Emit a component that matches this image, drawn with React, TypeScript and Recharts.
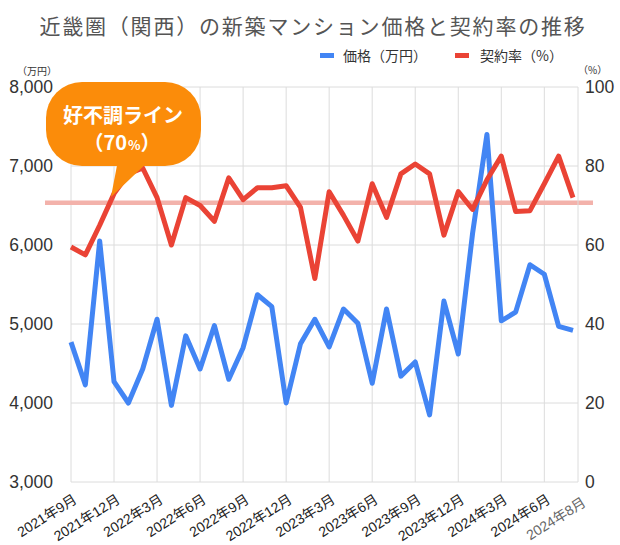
import React from 'react';
import { LineChart, Line, XAxis, YAxis, CartesianGrid, ReferenceLine } from 'recharts';

const MONTHS = [
  '2021年9月', '2021年10月', '2021年11月', '2021年12月',
  '2022年1月', '2022年2月', '2022年3月', '2022年4月', '2022年5月', '2022年6月',
  '2022年7月', '2022年8月', '2022年9月', '2022年10月', '2022年11月', '2022年12月',
  '2023年1月', '2023年2月', '2023年3月', '2023年4月', '2023年5月', '2023年6月',
  '2023年7月', '2023年8月', '2023年9月', '2023年10月', '2023年11月', '2023年12月',
  '2024年1月', '2024年2月', '2024年3月', '2024年4月', '2024年5月', '2024年6月',
  '2024年7月', '2024年8月',
];

const PRICE = [
  4770, 4230, 6050, 4270, 4000, 4430, 5060, 3970, 4850, 4430, 4980, 4300,
  4700, 5370, 5220, 4000, 4750, 5060, 4710, 5190, 5010, 4250, 5190, 4340,
  4520, 3850, 5290, 4620, 6150, 7400, 5040, 5150, 5750, 5630, 4970, 4920,
];

const RATE = [
  59.5, 57.5, 65, 73, 78, 79.5, 72, 60, 72, 70, 66, 77,
  71.5, 74.5, 74.5, 75, 69.5, 51.5, 73.5, 67.5, 61, 75.5, 67, 78,
  80.5, 78, 62.5, 73.5, 69, 76.5, 82.5, 68.5, 68.7, 75.5, 82.5, 72,
];

const TICK_LABELS = [
  '2021年9月', '2021年12月', '2022年3月', '2022年6月', '2022年9月', '2022年12月',
  '2023年3月', '2023年6月', '2023年9月', '2023年12月', '2024年3月', '2024年6月', '2024年8月',
];
const GRID_LABELS = TICK_LABELS.slice(0, TICK_LABELS.length - 1);

const PRICE_TICKS = [3000, 4000, 5000, 6000, 7000, 8000];
const RATE_TICKS = [0, 20, 40, 60, 80, 100];
const GOOD_LINE = 70.7;

const data = MONTHS.map((m, i) => ({ m, price: PRICE[i], rate: RATE[i] }));

const NUM_FONT = '"Liberation Sans", Arial, "Noto Sans CJK JP", sans-serif';
const JP_FONT = '"Noto Sans CJK JP", "Liberation Sans", sans-serif';

const XTick = (props: any) => {
  const { x, y, payload } = props;
  const last = payload.value === MONTHS[MONTHS.length - 1];
  const ax = x + (last ? 14 : 7);
  const ay = y + (last ? 23 : 20);
  return (
    <text
      x={ax}
      y={ay}
      textAnchor="end"
      fontSize={14}
      fontFamily={NUM_FONT}
      fill={last ? '#666' : '#222'}
      transform={`rotate(-32, ${ax}, ${ay})`}
    >
      {payload.value}
    </text>
  );
};

const vGen = (p: any) => {
  const s = p?.xAxis?.scale;
  if (s && typeof s === 'function') {
    const vals = GRID_LABELS.map((l) => s(l)).filter((v: any) => typeof v === 'number' && !isNaN(v));
    if (vals.length) return vals;
  }
  const off = p.offset;
  const step = (off.width - 5) / (MONTHS.length - 1);
  return GRID_LABELS.map((l) => off.left + MONTHS.indexOf(l) * step);
};

const GoodLineShape = (props: any) => {
  const { y1, y2, viewBox, x1, x2 } = props;
  const left = viewBox && typeof viewBox.x === 'number' ? viewBox.x : Math.min(x1, x2);
  const right = viewBox && typeof viewBox.width === 'number' ? viewBox.x + viewBox.width : Math.max(x1, x2);
  return (
    <line x1={left - 26} y1={y1} x2={right + 15} y2={y2} stroke="#f3b2ab" strokeWidth={4.5} />
  );
};

export default function App() {
  return (
    <div style={{ position: 'absolute', left: 0, top: 0, width: 620, height: 545, background: '#fff' }}>
      <LineChart width={620} height={545} data={data} margin={{ top: 87, right: 0, bottom: 0, left: 0 }}>
        <CartesianGrid
          yAxisId="left"
          stroke="#dcdcdc"
          strokeWidth={1}
          verticalCoordinatesGenerator={vGen}
        />
        <XAxis
          dataKey="m"
          ticks={TICK_LABELS}
          interval={0}
          height={63}
          axisLine={false}
          tickLine={false}
          tickSize={0}
          tickMargin={0}
          padding={{ left: 0, right: 5 }}
          tick={<XTick />}
        />
        <YAxis
          yAxisId="left"
          orientation="left"
          width={71}
          domain={[3000, 8000]}
          ticks={PRICE_TICKS}
          axisLine={false}
          tickLine={false}
          tickSize={0}
          tickMargin={18}
          tickFormatter={(v: number) => v.toLocaleString('en-US')}
          tick={{ fontSize: 17.5, fill: '#333', fontFamily: NUM_FONT }}
        />
        <YAxis
          yAxisId="right"
          orientation="right"
          width={42}
          domain={[0, 100]}
          ticks={RATE_TICKS}
          axisLine={{ stroke: '#dcdcdc' }}
          tickLine={false}
          tickSize={0}
          tickMargin={7}
          tick={{ fontSize: 17.5, fill: '#333', fontFamily: NUM_FONT, textAnchor: 'start' }}
        />
        <ReferenceLine yAxisId="right" y={GOOD_LINE} shape={<GoodLineShape />} />
        <Line
          yAxisId="left"
          dataKey="price"
          stroke="#4285f4"
          strokeWidth={5}
          dot={false}
          strokeLinejoin="round"
          isAnimationActive={false}
        />
        <Line
          yAxisId="right"
          dataKey="rate"
          stroke="#ea4335"
          strokeWidth={5}
          dot={false}
          strokeLinejoin="round"
          isAnimationActive={false}
        />
      </LineChart>
      <svg
        width={620}
        height={545}
        style={{ position: 'absolute', left: 0, top: 0, pointerEvents: 'none' }}
      >
        <text x={313} y={34} textAnchor="middle" fontSize={21} letterSpacing={1.8} fill="#555" fontFamily={JP_FONT}>
          近畿圏（関西）の新築マンション価格と契約率の推移
        </text>
        <rect x={320} y={53} width={14} height={5} fill="#4285f4" />
        <text x={343} y={61} fontSize={14} fill="#333" fontFamily={JP_FONT}>価格（万円）</text>
        <rect x={455} y={53} width={14} height={5} fill="#ea4335" />
        <text x={480} y={61} fontSize={14} fill="#333" fontFamily={JP_FONT}>契約率（%）</text>
        <text x={17} y={75} fontSize={10} fill="#333" fontFamily={JP_FONT}>（万円）</text>
        <text x={578} y={74} fontSize={10} fill="#333" fontFamily={JP_FONT}>（%）</text>
        <rect x={46} y={82} width={155} height={84} rx={36} ry={36} fill="#fb8c0a" />
        <path d="M 118 160 L 150 160 L 111 197 Z" fill="#fb8c0a" />
        <text x={123} y={123} textAnchor="middle" fontSize={20} fontWeight="bold" fill="#fff" fontFamily={JP_FONT}>
          好不調ライン
        </text>
        <text x={122} y={150} textAnchor="middle" fontSize={20} fontWeight="bold" fill="#fff" fontFamily={JP_FONT}>
          （70<tspan fontSize={13} dx={1}>%</tspan>）
        </text>
      </svg>
    </div>
  );
}
